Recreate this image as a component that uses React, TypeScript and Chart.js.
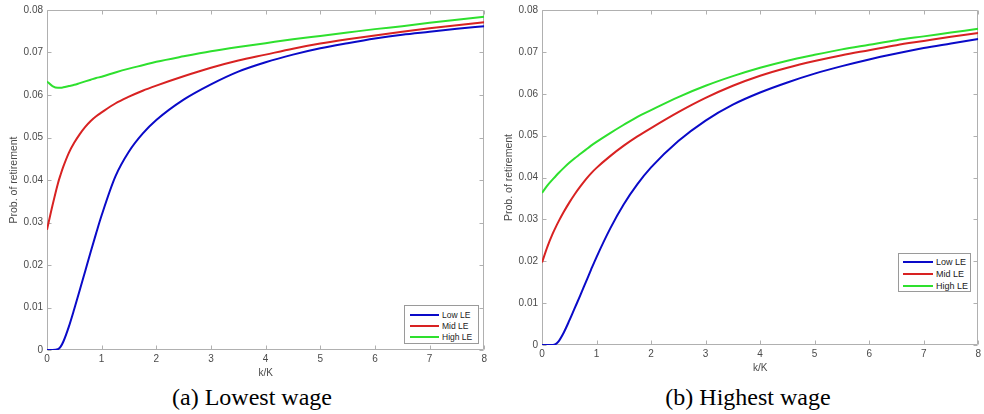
import React, { useEffect, useRef } from "react";
import { Chart, registerables } from "chart.js";
Chart.register(...registerables);

// k/K sample points (shared by all series)
const kGrid = [0, 0.1, 0.2, 0.25, 0.3, 0.4, 0.5, 0.6, 0.7, 0.8, 0.9, 1, 1.25, 1.5, 1.75, 2, 2.5, 3, 3.5, 4, 4.5, 5, 5.5, 6, 6.5, 7, 7.5, 8];

// (a) Lowest wage
const lowLE_lowest = [0, 0, 0.0002, 0.0008, 0.002, 0.0055, 0.0097, 0.0141, 0.0186, 0.0231, 0.0275, 0.0317, 0.0408, 0.0467, 0.0509, 0.0541, 0.0589, 0.0625, 0.0655, 0.0677, 0.0695, 0.071, 0.0722, 0.0733, 0.0742, 0.0749, 0.0756, 0.0762];
const midLE_lowest = [0.0283, 0.034, 0.0392, 0.0413, 0.0432, 0.0464, 0.0488, 0.0508, 0.0525, 0.0539, 0.055, 0.0559, 0.058, 0.0596, 0.061, 0.0622, 0.0644, 0.0664, 0.0681, 0.0695, 0.0709, 0.0721, 0.0731, 0.074, 0.0749, 0.0757, 0.0764, 0.0771];
const highLE_lowest = [0.0632, 0.0621, 0.0617, 0.0617, 0.0618, 0.0621, 0.0624, 0.0628, 0.0632, 0.0636, 0.064, 0.0643, 0.0653, 0.0662, 0.067, 0.0678, 0.0691, 0.0703, 0.0713, 0.0722, 0.0731, 0.0739, 0.0747, 0.0755, 0.0762, 0.077, 0.0777, 0.0784];

// (b) Highest wage
const lowLE_highest = [0, 0, 0, 0.0002, 0.0008, 0.003, 0.0058, 0.0088, 0.0118, 0.0149, 0.018, 0.021, 0.0278, 0.0336, 0.0384, 0.0424, 0.0487, 0.0536, 0.0574, 0.0603, 0.0627, 0.0648, 0.0666, 0.0682, 0.0696, 0.0709, 0.072, 0.0731];
const midLE_highest = [0.0197, 0.0235, 0.0267, 0.0281, 0.0294, 0.0318, 0.034, 0.036, 0.0378, 0.0395, 0.041, 0.0423, 0.0451, 0.0476, 0.0498, 0.0518, 0.0556, 0.059, 0.0619, 0.0643, 0.0662, 0.0678, 0.0692, 0.0704, 0.0716, 0.0726, 0.0736, 0.0745];
const highLE_highest = [0.0363, 0.0381, 0.0396, 0.0403, 0.041, 0.0423, 0.0435, 0.0446, 0.0456, 0.0466, 0.0476, 0.0485, 0.0506, 0.0526, 0.0545, 0.0561, 0.0592, 0.0619, 0.0642, 0.0662, 0.0679, 0.0693, 0.0706, 0.0717, 0.0728, 0.0737, 0.0746, 0.0755];

const seriesLabels = ["Low LE", "Mid LE", "High LE"];
const seriesColors = ["#0a0ac8", "#d82222", "#2ee02e"];
const captions = ["(a) Lowest wage", "(b) Highest wage"];
const xTitle = "k/K";
const yTitle = "Prob. of retirement";
const xMin = 0, xMax = 8, xStep = 1;
const yMin = 0, yMax = 0.08, yStep = 0.01;

const TICK_FONT = { family: "'Liberation Sans', Arial, sans-serif", size: 10 };
const TEXT_GREY = "#4a4a4a";
const FRAME_GREY = "#b0b0b0";

const framePlugin = {
  id: "matlabFrame",
  beforeDatasetsDraw(chart: any) {
    const { ctx, chartArea: a, scales } = chart;
    const xs = scales.x, ys = scales.y;
    const L = Math.round(a.left) + 0.5, R = Math.round(a.right) - 0.5;
    const T = Math.round(a.top) + 0.5, B = Math.round(a.bottom) - 0.5;
    ctx.save();
    ctx.strokeStyle = FRAME_GREY;
    ctx.lineWidth = 1;
    ctx.beginPath();
    ctx.rect(L, T, R - L, B - T);
    const tl = 4;
    xs.ticks.forEach((t: any) => {
      const px = Math.round(xs.getPixelForValue(t.value)) + 0.5;
      ctx.moveTo(px, B); ctx.lineTo(px, B - tl);
      ctx.moveTo(px, T); ctx.lineTo(px, T + tl);
    });
    ys.ticks.forEach((t: any) => {
      const py = Math.round(ys.getPixelForValue(t.value)) + 0.5;
      ctx.moveTo(L, py); ctx.lineTo(L + tl, py);
      ctx.moveTo(R, py); ctx.lineTo(R - tl, py);
    });
    ctx.stroke();
    ctx.restore();
  },
};

type PanelProps = {
  left: number; width: number; height: number;
  padTop: number; padRight: number; yAxisWidth: number; xAxisHeight: number;
  series: number[][];
};

function Panel(p: PanelProps) {
  const ref = useRef<HTMLCanvasElement | null>(null);
  useEffect(() => {
    if (!ref.current) return;
    const chart = new Chart(ref.current, {
      type: "line",
      data: {
        datasets: p.series.map((vals, i) => ({
          label: seriesLabels[i],
          data: kGrid.map((k, j) => ({ x: k, y: vals[j] })),
          borderColor: seriesColors[i],
          backgroundColor: seriesColors[i],
          borderWidth: 2,
          pointRadius: 0,
          cubicInterpolationMode: "monotone" as const,
          fill: false,
        })),
      },
      options: {
        responsive: false,
        animation: false,
        devicePixelRatio: 1,
        layout: { padding: { top: p.padTop, right: p.padRight, left: 0, bottom: 0 } },
        plugins: { legend: { display: false }, tooltip: { enabled: false } },
        scales: {
          x: {
            type: "linear",
            min: xMin, max: xMax,
            ticks: { stepSize: xStep, color: TEXT_GREY, font: TICK_FONT, padding: 3, maxRotation: 0 },
            grid: { display: false, drawTicks: false },
            border: { display: false },
            title: { display: true, text: xTitle, color: TEXT_GREY, font: TICK_FONT, padding: { top: 0, bottom: 1 } },
            afterFit: (s: any) => { s.height = p.xAxisHeight; },
          },
          y: {
            type: "linear",
            min: yMin, max: yMax,
            ticks: {
              stepSize: yStep, color: TEXT_GREY, font: TICK_FONT, padding: 4,
              callback: (v: any) => (Math.abs(v) < 1e-9 ? "0" : Number(v).toFixed(2)),
            },
            grid: { display: false, drawTicks: false },
            border: { display: false },
            title: { display: true, text: yTitle, color: TEXT_GREY, font: { ...TICK_FONT, size: 10.5 }, padding: { top: 8, bottom: 0 } },
            afterFit: (s: any) => { s.width = p.yAxisWidth; },
          },
        },
      },
      plugins: [framePlugin],
    } as any);
    return () => chart.destroy();
  }, []);
  return (
    <canvas
      ref={ref}
      width={p.width}
      height={p.height}
      style={{ position: "absolute", left: p.left, top: 0, width: p.width, height: p.height }}
    />
  );
}

type LegendProps = { left: number; top: number; width: number; height: number; rows: number[]; lineX0: number; lineX1: number; textX: number; fontSize: number };

function Legend(l: LegendProps) {
  return (
    <div style={{ position: "absolute", left: l.left, top: l.top, width: l.width, height: l.height, border: "1px solid #9a9a9a", background: "#fff", boxSizing: "border-box" }}>
      {seriesLabels.map((lab, i) => (
        <div key={lab} style={{ position: "absolute", left: 0, top: l.rows[i] - l.top - 6, height: 12, width: "100%" }}>
          <div style={{ position: "absolute", left: l.lineX0 - l.left, top: 5, width: l.lineX1 - l.lineX0, height: 2, background: seriesColors[i] }} />
          <div style={{ position: "absolute", left: l.textX - l.left, top: 0, height: 12, lineHeight: "12px", fontSize: l.fontSize, fontFamily: "'Liberation Sans', Arial, sans-serif", color: "#222", whiteSpace: "nowrap" }}>{lab}</div>
        </div>
      ))}
    </div>
  );
}

export default function App() {
  return (
    <div style={{ position: "absolute", left: 0, top: 0, width: 984, height: 414, background: "#fff", overflow: "hidden" }}>
      <Panel left={0} width={490} height={380} padTop={9} padRight={5} yAxisWidth={47} xAxisHeight={30}
        series={[lowLE_lowest, midLE_lowest, highLE_lowest]} />
      <Panel left={495} width={489} height={375} padTop={9} padRight={4} yAxisWidth={47} xAxisHeight={30}
        series={[lowLE_highest, midLE_highest, highLE_highest]} />
      <Legend left={404} top={305} width={75} height={39} rows={[314, 325, 336]} lineX0={409} lineX1={438} textX={441} fontSize={8.5} />
      <Legend left={898} top={253} width={73} height={39} rows={[261, 273, 285]} lineX0={902} lineX1={932} textX={935} fontSize={9} />
      {captions.map((c, i) => (
        <div key={c} style={{ position: "absolute", left: (i === 0 ? 252 : 748) - 150, top: 385, width: 300, textAlign: "center", fontFamily: "'Liberation Serif', 'Times New Roman', serif", fontSize: 24, lineHeight: "24px", color: "#000", whiteSpace: "nowrap" }}>{c}</div>
      ))}
    </div>
  );
}
